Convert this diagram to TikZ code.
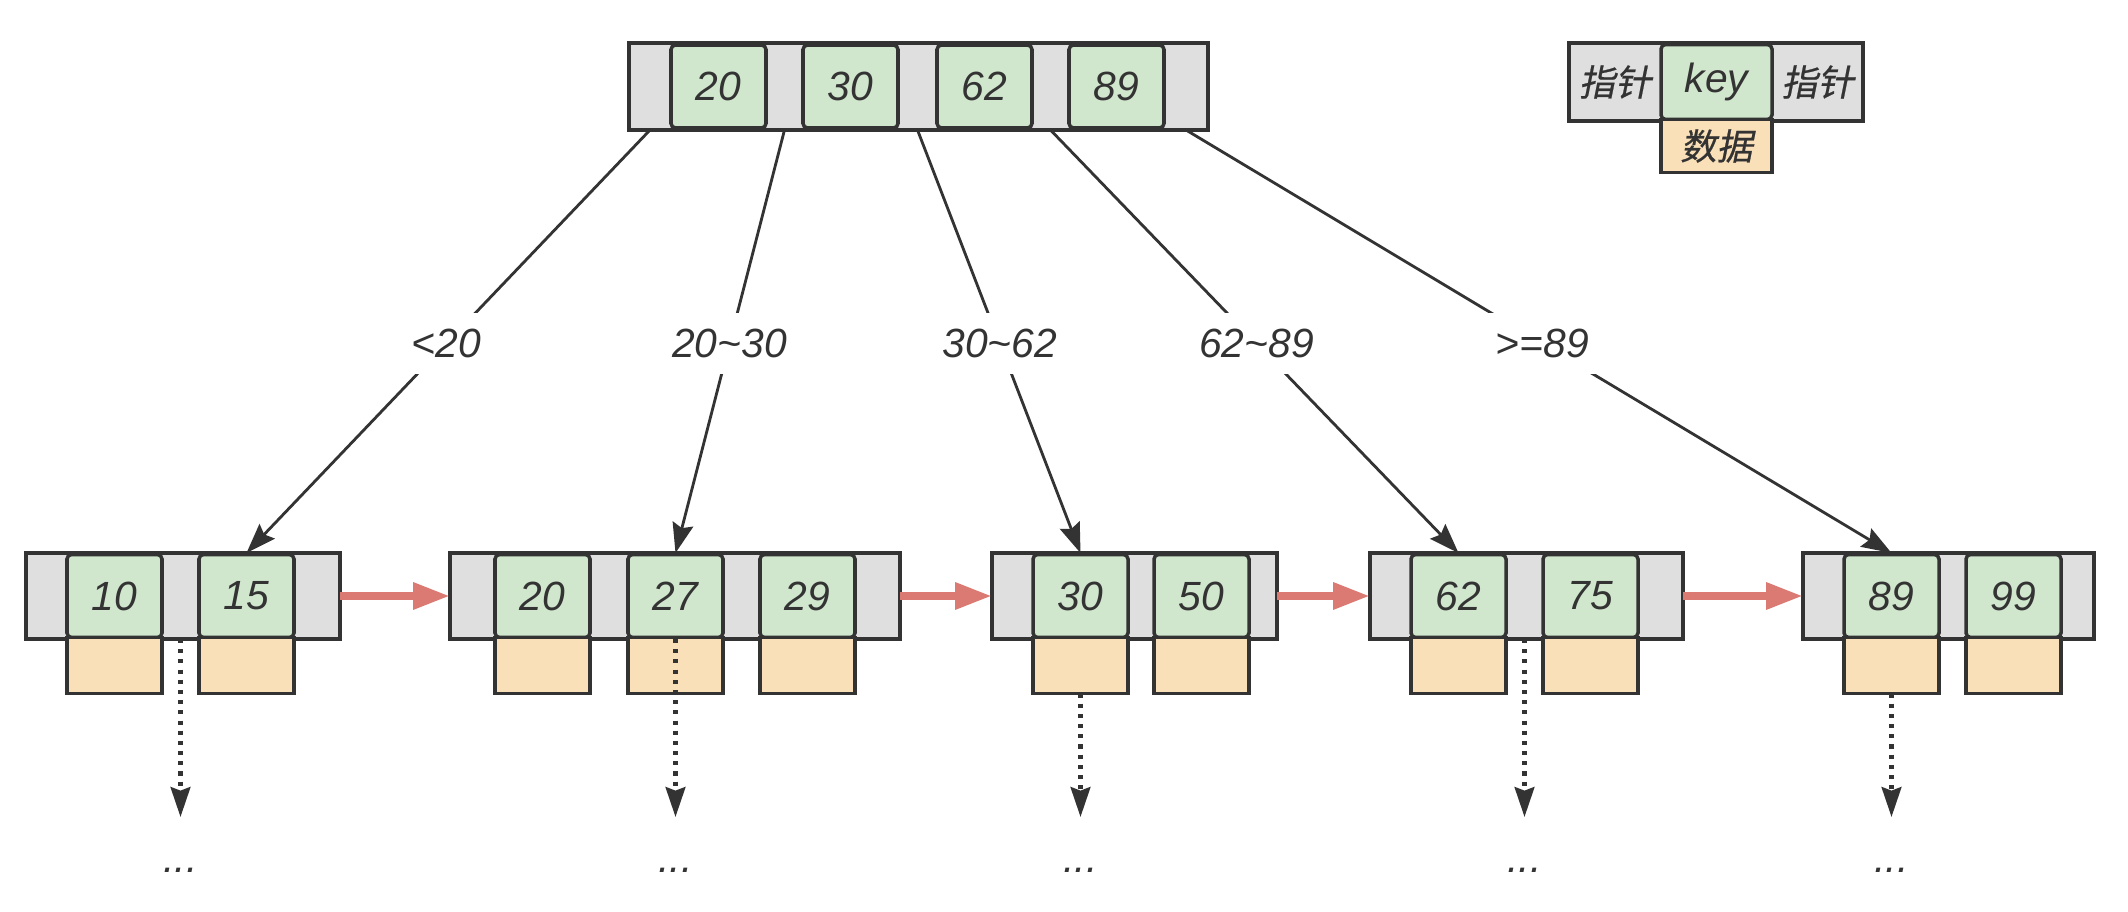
\documentclass[tikz,border=0pt]{standalone}
\usepackage{fontspec}
\setmainfont{Liberation Sans}
\newfontfamily\cjk[FakeSlant=0.2,FakeBold=0.6]{Noto Sans CJK SC}
\usetikzlibrary{positioning,arrows.meta,calc}
\definecolor{cD}{HTML}{333333}
\definecolor{cP}{HTML}{DFDFDF}
\definecolor{cK}{HTML}{D0E6CD}
\definecolor{cO}{HTML}{F9E0B8}
\definecolor{cR}{HTML}{DA7A72}
\newcommand\zh[1]{{\cjk\upshape\fontsize{10.3}{12}\selectfont #1}}

\begin{document}
\begin{tikzpicture}[x=.1mm, y=-.1mm,
  font=\fontsize{11.6}{14}\selectfont\itshape, text=cD,
  pt/.style={draw=cD,fill=cP,line width=1pt,minimum height=8.6mm,inner sep=0pt,outer sep=0pt,anchor=north west},
  ky/.style={draw=cD,fill=cK,line width=1pt,rounded corners=1.3pt,minimum width=9.5mm,minimum height=8.3mm,inner sep=0pt,outer sep=0pt},
  dt/.style={draw=cD,fill=cO,line width=1pt,minimum width=9.5mm,minimum height=5.6mm,inner sep=0pt,outer sep=0pt},
  ar/.style={-{Stealth[length=8.5pt,width=6pt,inset=1.2pt]},cD,line width=.8pt},
  nx/.style={-{Triangle[length=10.5pt,width=7.2pt]},cR,line width=2.3pt},
  dn/.style={-{Stealth[length=8.5pt,width=5.6pt,inset=1pt]},cD,line width=1.15pt,dash pattern=on 1.15pt off 1.75pt},
  lbl/.style={fill=white,inner sep=4.5pt,pos=.505},
  etc/.style={anchor=base,inner sep=0pt}]
\useasboundingbox (0,0) rectangle (2128,912);

% root
\node[pt,minimum width=57.9mm,minimum height=8.7mm] (T) at (629,43) {};
\node[ky,right=4.2mm of T.west] (t20) {20};
\node[ky,right=3.7mm of t20] (t30) {30};
\node[ky,right=3.9mm of t30] (t62) {62};
\node[ky,right=3.7mm of t62] (t89) {89};

% legend
\node[pt,minimum width=29.4mm,minimum height=7.8mm] (G) at (1569,43) {};
\node[ky,minimum width=11.1mm,minimum height=7.5mm,right=9.2mm of G.west] (gk) {key};
\node[dt,minimum width=11.1mm,minimum height=5.3mm,below=0pt of gk] (gd) {\zh{数据}};
\node (gp1) at ($(G.west)!.5!(gk.west)$) {\zh{指针}};
\node (gp2) at ($(gk.east)!.5!(G.east)$) {\zh{指针}};

% leaves
\node[pt,minimum width=31.4mm] (L1) at (26,553) {};
\node[ky,right=4.1mm of L1.west] (k10) {10};
\node[ky,right=3.7mm of k10] (k15) {15};
\node[dt,below=0pt of k10] (d10) {};
\node[dt,below=0pt of k15] (d15) {};

\node[pt,minimum width=45mm] (L2) at (450,553) {};
\node[ky,right=4.5mm of L2.west] (k20) {20};
\node[ky,right=3.8mm of k20] (k27) {27};
\node[ky,right=3.7mm of k27] (k29) {29};
\node[dt,below=0pt of k20] (d20) {};
\node[dt,below=0pt of k27] (d27) {};
\node[dt,below=0pt of k29] (d29) {};

\node[pt,minimum width=28.5mm] (L3) at (992,553) {};
\node[ky,right=4.1mm of L3.west] (k30) {30};
\node[ky,right=2.6mm of k30] (k50) {50};
\node[dt,below=0pt of k30] (d30) {};
\node[dt,below=0pt of k50] (d50) {};

\node[pt,minimum width=31.3mm] (L4) at (1370,553) {};
\node[ky,right=4.1mm of L4.west] (k62) {62};
\node[ky,right=3.7mm of k62] (k75) {75};
\node[dt,below=0pt of k62] (d62) {};
\node[dt,below=0pt of k75] (d75) {};

\node[pt,minimum width=29.1mm] (L5) at (1803,553) {};
\node[ky,right=4.1mm of L5.west] (k89) {89};
\node[ky,right=2.7mm of k89] (k99) {99};
\node[dt,below=0pt of k89] (d89) {};
\node[dt,below=0pt of k99] (d99) {};

% pointers of the root
\coordinate (p1) at ($(T.west)!.5!(t20.west)$);
\coordinate (p2) at ($(t20.east)!.5!(t30.west)$);
\coordinate (p3) at ($(t30.east)!.5!(t62.west)$);
\coordinate (p4) at ($(t62.east)!.5!(t89.west)$);
\coordinate (p5) at ($(t89.east)!.5!(T.east)$);
\draw[ar] (p1 |- T.south) -- (k15 |- L1.north) node[lbl] {<20};
\draw[ar] (p2 |- T.south) -- (k27 |- L2.north) node[lbl] {20\textasciitilde 30};
\draw[ar] (p3 |- T.south) -- (k30 |- L3.north) node[lbl] {30\textasciitilde 62};
\draw[ar] (p4 |- T.south) -- (k62 |- L4.north) node[lbl] {62\textasciitilde 89};
\draw[ar] (p5 |- T.south) -- (k89 |- L5.north) node[lbl] {>=89};

% leaf chain
\draw[nx] (L1) -- (L2); \draw[nx] (L2) -- (L3); \draw[nx] (L3) -- (L4); \draw[nx] (L4) -- (L5);

% further down
\coordinate (m1) at ($(k10.east)!.5!(k15.west)$);
\coordinate (m4) at ($(k62.east)!.5!(k75.west)$);
\coordinate (a1) at (m1 |- 0,817); \coordinate (a2) at (k27 |- 0,817);
\coordinate (a3) at (k30 |- 0,817); \coordinate (a4) at (m4 |- 0,817);
\coordinate (a5) at (k89 |- 0,817);
\draw[dn] (m1 |- L1.south) -- (a1);
\draw[dn] (k27 |- L2.south) -- (a2);
\draw[dn] (d30.south) -- (a3);
\draw[dn] (m4 |- L4.south) -- (a4);
\draw[dn] (d89.south) -- (a5);
\node[etc] (e1) at (m1 |- 0,872) {...};
\node[etc] (e2) at (k27 |- 0,872) {...};
\node[etc] (e3) at (k30 |- 0,872) {...};
\node[etc] (e4) at (m4 |- 0,872) {...};
\node[etc] (e5) at (k89 |- 0,872) {...};
\end{tikzpicture}
\end{document}
